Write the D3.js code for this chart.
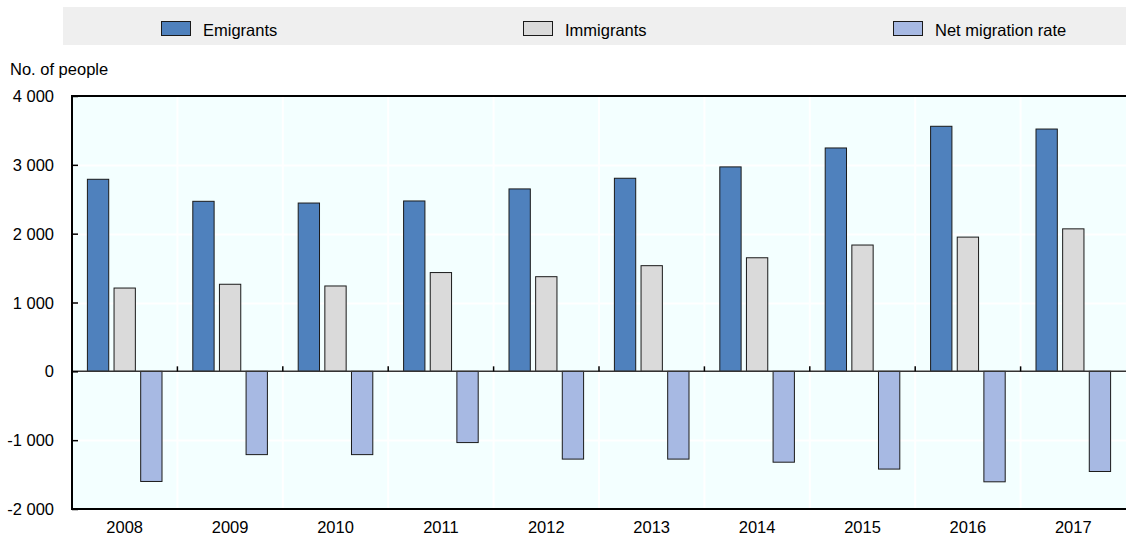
<!DOCTYPE html>
<html>
<head>
<meta charset="utf-8">
<script src="https://cdn.jsdelivr.net/npm/d3@7"></script>
<style>
  body { margin: 0; background: white; }
  text { font-family: "Liberation Sans", Arial, sans-serif; fill: #000; }
</style>
</head>
<body>
<div id="chart"></div>
<script>
// data
var years = ["2008", "2009", "2010", "2011", "2012", "2013", "2014", "2015", "2016", "2017"];
var emigrants = [2790, 2470, 2445, 2475, 2650, 2805, 2970, 3245, 3560, 3520];
var immigrants = [1210, 1265, 1240, 1435, 1375, 1535, 1650, 1835, 1950, 2070];
var netMigration = [-1600, -1210, -1210, -1035, -1275, -1275, -1320, -1420, -1605, -1455];
var seriesNames = ["Emigrants", "Immigrants", "Net migration rate"];
var colors = ["#4F81BD", "#DADADA", "#A7B9E3"];
var yTicks = [-2000, -1000, 0, 1000, 2000, 3000, 4000];

var W = 1126, H = 538;
var margin = {left: 72, right: 0, top: 96, bottom: 29};
var fontSize = "16.5px";

var svg = d3.select("#chart")
  .append("svg")
    .attr("width", W)
    .attr("height", H);

// legend band
svg.append("rect")
  .attr("x", 63).attr("y", 7)
  .attr("width", W - 63).attr("height", 38)
  .style("fill", "#EFEFEF");

var legendX = [161, 523, 893];
seriesNames.forEach(function(name, i) {
  svg.append("rect")
    .attr("x", legendX[i] + 0.5).attr("y", 21.5)
    .attr("width", 29).attr("height", 14)
    .style("fill", colors[i])
    .style("stroke", "#1a1a1a").style("stroke-width", 1);
  svg.append("text")
    .attr("x", legendX[i] + 42).attr("y", 35.5)
    .style("font-size", fontSize)
    .text(name);
});

var x = d3.scaleBand()
  .domain(years)
  .range([margin.left, W - margin.right]);

var y = d3.scaleLinear()
  .domain([-2000, 4000])
  .range([H - margin.bottom, margin.top]);

// inner band for the three series
var xs = d3.scaleBand()
  .domain(d3.range(3))
  .range([15.4, x.bandwidth() - 15.4])
  .paddingInner(0.2);

// plot background
svg.append("rect")
  .attr("x", margin.left).attr("y", margin.top)
  .attr("width", W - margin.left - margin.right)
  .attr("height", y(-2000) - y(4000))
  .style("fill", "#F3FFFF");

// white grid
svg.append("g")
  .selectAll("line")
  .data(yTicks.slice(1, -1))
  .enter()
  .append("line")
    .attr("x1", margin.left).attr("x2", W)
    .attr("y1", function(d){ return Math.round(y(d)) + 0.5; })
    .attr("y2", function(d){ return Math.round(y(d)) + 0.5; })
    .style("stroke", "white").style("stroke-width", 2);

svg.append("g")
  .selectAll("line")
  .data(years.slice(1))
  .enter()
  .append("line")
    .attr("x1", function(d){ return x(d); })
    .attr("x2", function(d){ return x(d); })
    .attr("y1", margin.top).attr("y2", y(-2000))
    .style("stroke", "white").style("stroke-width", 2);

// bars
var allSeries = [emigrants, immigrants, netMigration];
allSeries.forEach(function(vals, si) {
  svg.append("g")
    .selectAll("rect")
    .data(vals)
    .enter()
    .append("rect")
      .attr("x", function(d, i){ return x(years[i]) + xs(si); })
      .attr("width", xs.bandwidth())
      .attr("y", function(d){ return y(Math.max(0, d)); })
      .attr("height", function(d){ return Math.abs(y(d) - y(0)); })
      .style("fill", colors[si])
      .style("stroke", "#1a1a1a")
      .style("stroke-width", 1);
});

// zero line
svg.append("line")
  .attr("x1", margin.left).attr("x2", W)
  .attr("y1", y(0)).attr("y2", y(0))
  .style("stroke", "#333").style("stroke-width", 1.5);

// little ticks on zero line at category boundaries
svg.append("g")
  .selectAll("line")
  .data(years.slice(1))
  .enter()
  .append("line")
    .attr("x1", function(d){ return x(d); })
    .attr("x2", function(d){ return x(d); })
    .attr("y1", y(0)).attr("y2", y(0) - 5)
    .style("stroke", "#000").style("stroke-width", 1.5);

// y axis: ticks pointing inside
var yAxis = svg.append("g")
  .attr("transform", "translate(" + margin.left + ",0)")
  .call(d3.axisRight(y).tickValues(yTicks).tickSize(6).tickFormat(""));
yAxis.select(".domain").remove();
yAxis.selectAll("line").style("stroke", "#000").style("stroke-width", 1.5);

svg.append("g")
  .selectAll("text")
  .data(yTicks)
  .enter()
  .append("text")
    .attr("x", 54)
    .attr("y", function(d){ return y(d) + 6; })
    .attr("text-anchor", "end")
    .style("font-size", fontSize)
    .text(function(d){ return d3.format(",")(d).replace(/,/g, " ").replace("\u2212", "-"); });

// frame: left, top, bottom
svg.append("line")
  .attr("x1", margin.left).attr("x2", margin.left)
  .attr("y1", margin.top - 1).attr("y2", y(-2000) + 1)
  .style("stroke", "#000").style("stroke-width", 2);
svg.append("line")
  .attr("x1", margin.left).attr("x2", W)
  .attr("y1", margin.top).attr("y2", margin.top)
  .style("stroke", "#000").style("stroke-width", 2);
svg.append("line")
  .attr("x1", margin.left).attr("x2", W)
  .attr("y1", y(-2000)).attr("y2", y(-2000))
  .style("stroke", "#000").style("stroke-width", 2);

// x labels
svg.append("g")
  .selectAll("text")
  .data(years)
  .enter()
  .append("text")
    .attr("x", function(d){ return x(d) + x.bandwidth() / 2; })
    .attr("y", 533)
    .attr("text-anchor", "middle")
    .style("font-size", fontSize)
    .text(function(d){ return d; });

// unit label
svg.append("text")
  .attr("x", 10).attr("y", 75)
  .style("font-size", fontSize)
  .text("No. of people");
</script>
</body>
</html>
